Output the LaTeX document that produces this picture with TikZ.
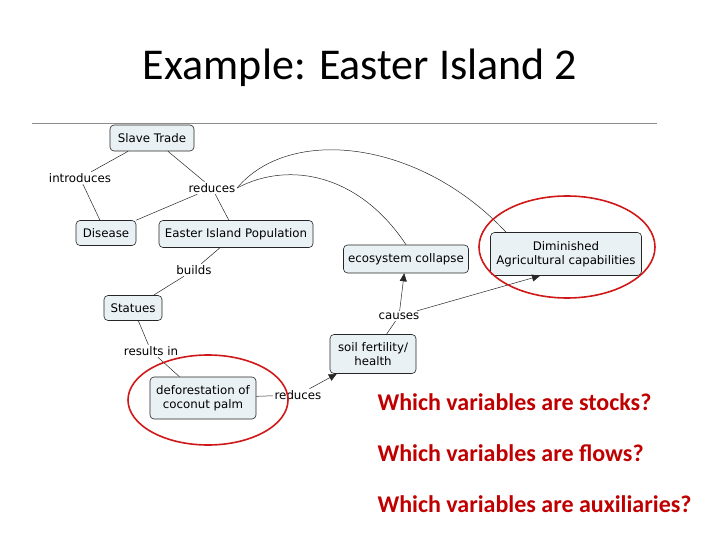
\documentclass[tikz,border=0pt]{standalone}
\usepackage{fontspec}
\setmainfont{Carlito}
\newfontfamily\mapfont{DejaVu Sans}
\usetikzlibrary{arrows.meta}
\definecolor{boxfill}{HTML}{EAF1F5}
\definecolor{qred}{HTML}{C00000}
\definecolor{ringred}{HTML}{D01818}
\tikzset{
  concept/.style={draw=black!85,fill=boxfill,rounded corners=4pt,font=\mapfont\fontsize{11.8}{14}\selectfont,align=center,inner sep=3pt,line width=0.6pt},
  lbl/.style={font=\mapfont\fontsize{11.8}{14}\selectfont,inner sep=1.5pt,fill=white},
  link/.style={draw=black!85,line width=0.5pt},
  arr/.style={link,-{Triangle[length=8pt,width=7pt]}},
  ring/.style={draw=ringred,line width=1.6pt},
  question/.style={font=\bfseries\fontsize{24}{28}\selectfont,text=qred,anchor=west}
}
\begin{document}
\begin{tikzpicture}[x=1pt,y=-1pt]
\useasboundingbox (0,0) rectangle (720,540);
\node[font=\fontsize{44}{50}\selectfont] (title) at (360,68) {Example: Easter Island 2};
\coordinate (rl) at (32,123); \coordinate (rr) at (657,123);
\draw[black!45,line width=0.8pt] (rl) -- (rr);

\node[concept,minimum width=84pt,minimum height=26pt] (slave) at (152,138) {Slave Trade};
\node[concept,minimum width=60pt,minimum height=25pt] (disease) at (106,233) {Disease};
\node[concept,minimum width=154pt,minimum height=27pt] (pop) at (236,234) {Easter Island Population};
\node[concept,minimum width=58pt,minimum height=25pt] (statues) at (133,308) {Statues};
\node[concept,minimum width=106pt,minimum height=42pt] (defor) at (203,398) {deforestation of\\coconut palm};
\node[concept,minimum width=86pt,minimum height=39pt] (soil) at (373,354) {soil fertility/\\health};
\node[concept,minimum width=125pt,minimum height=28pt] (eco) at (406,259) {ecosystem collapse};
\node[concept,minimum width=151pt,minimum height=43pt] (dim) at (566,254) {Diminished\\Agricultural capabilities};

\node[lbl] (intro) at (80,178) {introduces};
\node[lbl] (red1) at (212,188) {reduces};
\node[lbl] (builds) at (194,270) {builds};
\node[lbl] (resin) at (151,351) {results in};
\node[lbl] (red2) at (298,395) {reduces};
\node[lbl] (causes) at (399,316) {causes};

\draw[link] (slave) -- (intro);
\draw[link] (intro) -- (disease);
\draw[link] (slave) -- (red1);
\draw[link] (red1) -- (disease);
\draw[link] (red1) -- (pop);
\draw[link] (red1.east) .. controls (290,125) and (420,140) .. (dim.160);
\draw[link] (red1.east) .. controls (290,160) and (360,175) .. (eco.north);
\draw[link] (pop) -- (builds);
\draw[link] (builds) -- (statues);
\draw[link] (statues) -- (resin);
\draw[link] (resin) -- (defor);
\draw[link] (defor) -- (red2);
\draw[arr] (red2) -- (soil);
\draw[link] (soil) -- (causes);
\draw[arr] (causes) -- (eco);
\draw[arr] (causes) -- (dim.220);

\draw[ring] (567,247) ellipse [x radius=88, y radius=51];
\draw[ring] (208,400) ellipse [x radius=80, y radius=45];

\node[question] (q1) at (374,402) {Which variables are stocks?};
\node[question] (q2) at (374,453) {Which variables are flows?};
\node[question] (q3) at (374,504) {Which variables are auxiliaries?};
\end{tikzpicture}
\end{document}
